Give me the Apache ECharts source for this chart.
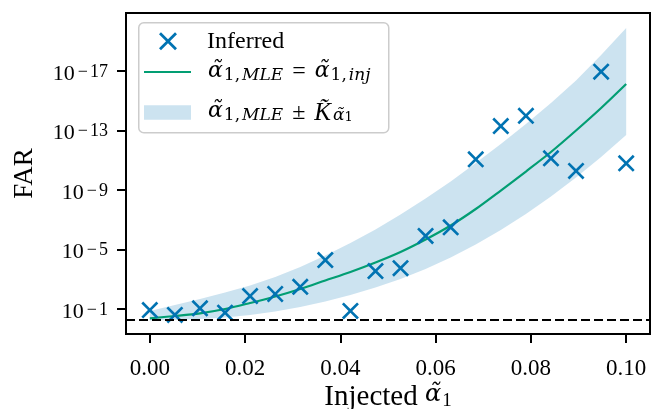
<!DOCTYPE html>
<html><head><meta charset="utf-8">
<script src="https://cdn.jsdelivr.net/npm/echarts@6/dist/echarts.min.js"></script>
<style>html,body{margin:0;padding:0;background:#fff}#c{width:657px;height:409px}</style>
</head><body><div id="c"></div>
<script>
// ---------------- data ----------------
const alphaInjected = [0, 0.00526, 0.01053, 0.01579, 0.02105, 0.02632, 0.03158, 0.03684, 0.04211, 0.04737,
  0.05263, 0.05789, 0.06316, 0.06842, 0.07368, 0.07895, 0.08421, 0.08947, 0.09474, 0.1];
const farInferred = [1.17e-1, 2.5e-1, 8.9e-2, 1.78e-1, 1.35e-2, 9.8e-3, 3.2e-3, 5.1e-5, 1.35e-1, 2.8e-4,
  1.8e-4, 1.23e-6, 3.2e-7, 8.7e-12, 5.0e-14, 1.02e-14, 7.4e-12, 5.2e-11, 1.1e-17, 1.6e-11];
const farMLE = [4.2e-1, 2.96e-1, 1.95e-1, 1.0e-1, 3.95e-2, 1.45e-2, 4.5e-3, 1.21e-3, 3.26e-4, 7.5e-5,
  1.47e-5, 2.13e-6, 2.44e-7, 1.89e-8, 1.08e-9, 5.7e-11, 2.79e-12, 1.0e-13, 3.07e-15, 7.5e-17];
const farBandLow = [1.36e-1, 5.38e-2, 2.13e-2, 7.8e-3, 2.63e-3, 7.1e-4, 1.5e-4, 2.53e-5, 3.66e-6, 4.5e-7,
  4.4e-8, 3.7e-9, 2.7e-10, 1.53e-11, 8.1e-13, 3.66e-14, 1.42e-15, 4.4e-17, 8.4e-19, 1.29e-20];
const farBandHigh = [5.93e-1, 5.48e-1, 4.7e-1, 3.72e-1, 2.53e-1, 1.47e-1, 7.34e-2, 3.13e-2, 1.15e-2, 3.59e-3,
  9.6e-4, 2.05e-4, 3.45e-5, 4.6e-6, 4.9e-7, 4.1e-8, 2.74e-9, 1.45e-10, 6.05e-12, 2.0e-13];
const farThreshold = 0.5;
const xTicks = [0, 0.02, 0.04, 0.06, 0.08, 0.10];
const yTicks = [1e-1, 1e-5, 1e-9, 1e-13, 1e-17];
const xRange = [-0.005, 0.105];
const yRangeExp = [-20.9, 0.68]; // log10 of FAR at top / bottom of the frame

// ---------------- chart ----------------
const FONT = '"Liberation Serif", "DejaVu Serif", serif';
const GREEK = '"DejaVu Serif", "Liberation Serif", serif';
const BLUE = '#0173B2', GREEN = '#029E73', BAND = 'rgba(1,115,178,0.2)';
const XSYM = 'path://M0,11L11,0L50,39L89,0L100,11L61,50L100,89L89,100L50,61L11,100L0,89L39,50Z';
const lg = v => Math.log10(v);

const chart = echarts.init(document.getElementById('c'));
const txt = {fontFamily: FONT, color: '#000'};
const gk = {fontFamily: GREEK, color: '#000'};
const legendRich = {
  t: Object.assign({fontSize: 24, lineHeight: 24, verticalAlign: 'top'}, txt),
  eq: Object.assign({fontSize: 24, lineHeight: 24, verticalAlign: 'top', padding: [0, 9, 0, 9]}, txt),
  a: Object.assign({fontSize: 22, lineHeight: 24, fontStyle: 'italic', verticalAlign: 'top'}, gk),
  k: Object.assign({fontSize: 25, lineHeight: 24, fontStyle: 'italic', verticalAlign: 'top'}, txt),
  s: Object.assign({fontSize: 17, lineHeight: 18, verticalAlign: 'bottom', padding: [10, 1, 0, 1]}, gk),
  si: Object.assign({fontSize: 17, lineHeight: 18, fontStyle: 'italic', verticalAlign: 'bottom', padding: [10, 0, 0, 1]}, gk),
  sa: Object.assign({fontSize: 17, lineHeight: 18, fontStyle: 'italic', verticalAlign: 'bottom', padding: [10, 0, 0, 2]}, gk),
  ss: Object.assign({fontSize: 13, lineHeight: 13, verticalAlign: 'bottom', padding: [18, 0, 0, 0]}, gk)
};
const option = {
  animation: false,
  backgroundColor: '#fff',
  grid: {left: 126, right: 7, top: 13, bottom: 75, outerBoundsMode: 'none', containLabel: false,
         show: true, borderColor: '#000', borderWidth: 2, backgroundColor: 'transparent'},
  xAxis: {
    type: 'value', min: xRange[0], max: xRange[1],
    axisLine: {show: false, onZero: false}, splitLine: {show: false},
    axisTick: {show: true, length: 9, lineStyle: {color: '#000', width: 2}, customValues: xTicks},
    axisLabel: {customValues: xTicks, margin: 23, fontSize: 23, fontFamily: FONT, color: '#000', formatter: v => v.toFixed(2)},
    name: '{t|Injected }{a|α̃}{s|1}', nameLocation: 'middle', nameGap: 49, nameMoveOverlap: false,
    nameTextStyle: {rich: {
      t: Object.assign({fontSize: 29, lineHeight: 28, verticalAlign: 'top'}, txt),
      a: Object.assign({fontSize: 24, lineHeight: 28, fontStyle: 'italic', verticalAlign: 'top'}, gk),
      s: Object.assign({fontSize: 19, lineHeight: 19, verticalAlign: 'bottom', padding: [12, 0, 0, 1]}, txt)
    }}
  },
  yAxis: {
    type: 'value', inverse: true, min: yRangeExp[0], max: yRangeExp[1],
    axisLine: {show: false, onZero: false}, splitLine: {show: false},
    axisTick: {show: true, length: 9, lineStyle: {color: '#000', width: 2}, customValues: yTicks.map(lg)},
    axisLabel: {
      customValues: yTicks.map(lg), margin: 18, padding: [6, 0, 0, 0],
      formatter: v => '{b|10}{m|−}{s|' + Math.abs(Math.round(v)) + '}',
      rich: {
        b: Object.assign({fontSize: 22, lineHeight: 22, verticalAlign: 'bottom'}, txt),
        m: Object.assign({fontSize: 18, lineHeight: 18, verticalAlign: 'top', padding: [0, 2, 9, 3]}, txt),
        s: Object.assign({fontSize: 18, lineHeight: 18, verticalAlign: 'top', padding: [0, 0, 9, 0]}, txt)
      }
    },
    name: 'FAR', nameLocation: 'middle', nameGap: 88, nameRotate: 90,
    nameTextStyle: {fontSize: 27, fontFamily: FONT, color: '#000'}
  },
  legend: [
    {left: 159, top: 29.3, padding: 0, itemWidth: 18, itemHeight: 18,
     data: [{name: 'Inferred', icon: XSYM, itemStyle: {color: BLUE}}],
     formatter: () => '{t|Inferred}', textStyle: {padding: [0, 0, 0, 25], rich: legendRich}},
    {left: 144, top: 57, padding: 0, itemWidth: 47, itemHeight: 2.2,
     data: [{name: 'MLE', icon: 'rect', itemStyle: {color: GREEN}}],
     formatter: () => '{a|α̃}{s|1,}{si|MLE}{eq|=}{a|α̃}{s|1,}{si|inj}', textStyle: {padding: [0, 0, 0, 12], rich: legendRich}},
    {left: 144, top: 93.5, padding: 0, itemWidth: 47, itemHeight: 14.5,
     data: [{name: 'Band', icon: 'rect', itemStyle: {color: BAND}}],
     formatter: () => '{a|α̃}{s|1,}{si|MLE}{eq|±}{k|K̃}{sa|α̃}{ss|1}', textStyle: {padding: [0, 0, 0, 12], rich: legendRich}}
  ],
  graphic: [{
    type: 'rect', left: 138, top: 22, z: 3,
    shape: {width: 250, height: 110, r: 5},
    style: {fill: 'rgba(255,255,255,0.8)', stroke: '#cccccc', lineWidth: 1.5}
  }],
  series: [
    {
      name: 'Band', type: 'custom', z: 1,
      itemStyle: {color: BAND},
      data: [[alphaInjected[0], lg(farMLE[0])]],
      renderItem: function (params, api) {
        const pts = [];
        for (let i = 0; i < alphaInjected.length; i++) pts.push(api.coord([alphaInjected[i], lg(farBandLow[i])]));
        for (let i = alphaInjected.length - 1; i >= 0; i--) pts.push(api.coord([alphaInjected[i], lg(farBandHigh[i])]));
        return {type: 'polygon', shape: {points: pts}, style: {fill: BAND}};
      }
    },
    {
      name: 'MLE', type: 'line', z: 2, symbol: 'none', smooth: 0.3,
      lineStyle: {color: GREEN, width: 2.2}, itemStyle: {color: GREEN},
      data: alphaInjected.map((x, i) => [x, lg(farMLE[i])]),
      markLine: {
        silent: true, symbol: 'none', label: {show: false},
        lineStyle: {color: '#000', type: [9, 4], width: 2},
        data: [{yAxis: lg(farThreshold)}]
      }
    },
    {
      name: 'Inferred', type: 'scatter', z: 3, symbol: XSYM, symbolSize: 17,
      itemStyle: {color: BLUE, opacity: 1},
      data: alphaInjected.map((x, i) => [x, lg(farInferred[i])])
    }
  ]
};
chart.setOption(option);
</script></body></html>
